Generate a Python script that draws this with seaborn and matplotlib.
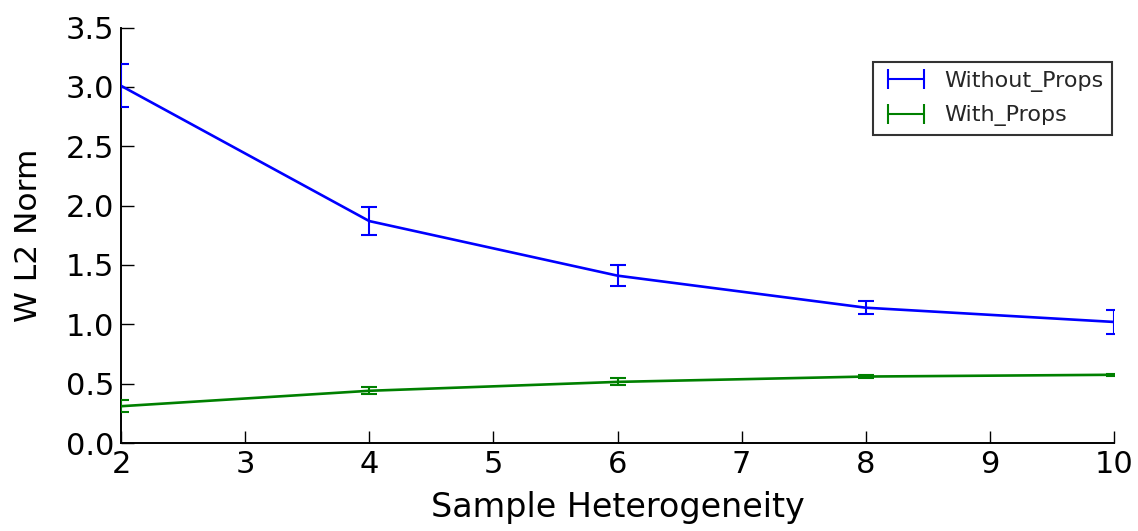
import matplotlib
matplotlib.use("Agg")
import matplotlib.pyplot as plt
import seaborn as sns
import pandas as pd
from matplotlib.lines import Line2D

heterogeneity = [2, 4, 6, 8, 10]
without_props = [3.01, 1.87, 1.41, 1.14, 1.02]
without_props_err = [0.18, 0.115, 0.09, 0.055, 0.10]
with_props = [0.31, 0.44, 0.515, 0.56, 0.575]
with_props_err = [0.05, 0.03, 0.03, 0.012, 0.01]

series_names = ["Without_Props", "With_Props"]
series_colors = {"Without_Props": "#0000ff", "With_Props": "#008000"}

df = pd.DataFrame({
    "Sample Heterogeneity": heterogeneity * 2,
    "W L2 Norm": without_props + with_props,
    "err": without_props_err + with_props_err,
    "series": ["Without_Props"] * 5 + ["With_Props"] * 5,
})

sns.set_style("ticks")
plt.rcParams["font.family"] = ["DejaVu Sans"]

fig = plt.figure(figsize=(11.38, 5.31), dpi=100)
ax = fig.add_axes([0.1063, 0.1657, 0.8727, 0.7823])

sns.lineplot(data=df, x="Sample Heterogeneity", y="W L2 Norm", hue="series",
             palette=series_colors, linewidth=1.9, legend=False, ax=ax,
             errorbar=None)

for name in series_names:
    sub = df[df["series"] == name]
    ax.errorbar(sub["Sample Heterogeneity"], sub["W L2 Norm"], yerr=sub["err"],
                fmt="none", ecolor=series_colors[name], elinewidth=1.5,
                capsize=6, capthick=1.5, zorder=3)

ax.set_xlim(2, 10)
ax.set_ylim(0, 3.5)
ax.set_xticks(range(2, 11))
yticks = [0.0, 0.5, 1.0, 1.5, 2.0, 2.5, 3.0, 3.5]
ax.set_yticks(yticks)
ax.set_yticklabels([f"{v:.1f}" for v in yticks])

for side in ["top", "right"]:
    ax.spines[side].set_visible(False)
for side in ["left", "bottom"]:
    ax.spines[side].set_color("black")
    ax.spines[side].set_linewidth(1.4)

ax.tick_params(axis="both", direction="in", length=9, width=1.0,
               colors="black", labelsize=22, pad=5)
ax.set_xlabel("Sample Heterogeneity", fontsize=24, color="black", labelpad=9)
ax.set_ylabel("W L2 Norm", fontsize=22.5, color="black", labelpad=16)

handles = [Line2D([0], [0], color=series_colors[n], linewidth=1.5, marker="|",
                  markersize=14, markeredgewidth=1.5) for n in series_names]
leg = ax.legend(handles, series_names, loc="upper right",
                bbox_to_anchor=(0.998, 0.917), numpoints=2, fontsize=16,
                handlelength=2.2, handletextpad=0.6, borderpad=0.4,
                labelspacing=0.6, fancybox=False, frameon=True,
                borderaxespad=0.0)
leg.get_frame().set_edgecolor("black")
leg.get_frame().set_linewidth(1.5)

fig.savefig("out.png", dpi=100)
